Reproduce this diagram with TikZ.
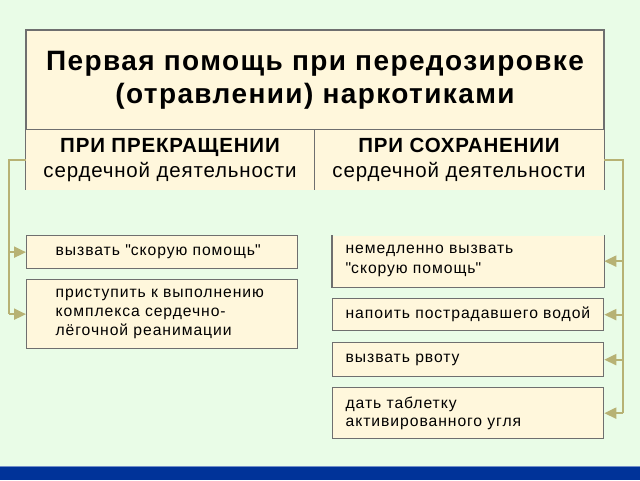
\documentclass[tikz,border=0pt]{standalone}
\usepackage{fontspec}
\setmainfont{Liberation Sans}
\usetikzlibrary{arrows.meta, positioning}
\definecolor{bgGreen}{HTML}{E9FCE7}
\definecolor{boxFill}{HTML}{FFF7DC}
\definecolor{boxLine}{HTML}{6F6F6F}
\definecolor{olive}{HTML}{B7B274}
\definecolor{barBlue}{HTML}{003399}
\def\spc{6}
\tikzset{edge/.style={boxLine, line width=1.3pt}}
\tikzset{box/.style={edge, draw, fill=boxFill, text=black, anchor=north west, minimum width=271pt, align=left,
  font=\fontsize{15.7}{19}\selectfont\addfontfeatures{LetterSpace=\spc}}}
\tikzset{leftbox/.style={box, inner xsep=29pt, text width=213pt}}
\tikzset{rightbox/.style={box, inner xsep=13pt, text width=245pt}}
\tikzset{head/.style={fill=boxFill, draw=none, text=black, inner sep=0pt, align=center,
  font=\fontsize{20.5}{25}\selectfont\addfontfeatures{LetterSpace=4}}}
\tikzset{bus/.style={olive, line width=2pt}}
\tikzset{link/.style={bus, -{Triangle[length=12pt, width=11pt]}}}

\begin{document}
\begin{tikzpicture}[x=1pt, y=-1pt]
        % Background
        \fill[bgGreen] (0,0) rectangle (640,480);
        \useasboundingbox (0,0) rectangle (640,480);
        \fill[barBlue] (0,466) rectangle (640,480);
        \draw[barBlue!55!white, line width=1pt] (0,466) -- (640,466);
        % Title
        \node[edge, draw, fill=boxFill, text=black, minimum width=578pt, minimum height=100pt, align=center,
          font=\fontsize{28}{33}\selectfont\bfseries\addfontfeatures{LetterSpace=5}] (title) at (315,80)
          {\raisebox{-2pt}{Первая помощь при передозировке}\\\raisebox{-2pt}{(отравлении) наркотиками}};
        % Two headers, open at the bottom
        \node[head, minimum width=288pt, minimum height=60pt] (stop) at (170,160)
          {\raisebox{-3pt}{\bfseries ПРИ ПРЕКРАЩЕНИИ}\\\raisebox{-3pt}{сердечной деятельности}};
        \node[head, minimum width=290pt, minimum height=60pt] (keep) at (459,160)
          {\raisebox{-2pt}{\bfseries ПРИ СОХРАНЕНИИ}\\\raisebox{-2pt}{сердечной деятельности}};
        \draw[edge] (stop.north west) -- (stop.south west);
        \draw[edge] (stop.north east) -- (stop.south east);
        \draw[edge] (keep.north east) -- (keep.south east);
        % Left column
        \node[leftbox, minimum height=33pt] (callL) at (26,235) {вызвать \textquotedbl скорую помощь\textquotedbl};
        \node[leftbox, minimum height=69pt] (reanim) at (26,279)
          {приступить к выполнению\\комплекса сердечно-\\лёгочной реанимации};
        % Right column
        \node[rightbox, draw=none, minimum height=51pt, font=\fontsize{15.7}{20}\selectfont\addfontfeatures{LetterSpace=\spc}] (callR) at (332,235)
          {немедленно вызвать\\\textquotedbl скорую помощь\textquotedbl};
        \draw[edge] (callR.north west) -- (callR.south west) -- (callR.south east) -- (callR.north east);
        \node[rightbox, minimum height=32pt] (water) at (332,298) {напоить пострадавшего водой};
        \node[rightbox, minimum height=34pt] (vomit) at (332,342) {вызвать рвоту};
        \node[rightbox, minimum height=51pt, font=\fontsize{15.7}{18}\selectfont\addfontfeatures{LetterSpace=\spc}] (coal) at (332,387)
          {дать таблетку\\активированного угля};
        % Buses
        \coordinate (busL) at (9,0);
        \coordinate (busR) at (623,0);
        \draw[bus] (stop.west) -- (stop.west -| busL) -- (reanim.west -| busL);
        \draw[bus] (keep.east) -- (keep.east -| busR) -- (coal.east -| busR);
        \foreach \b in {callL, reanim} {
          \draw[link] (\b.west -| busL) -- (\b.west);
        }
        \foreach \b in {callR, water, vomit, coal} {
          \draw[link] (\b.east -| busR) -- (\b.east);
        }
\end{tikzpicture}
\end{document}
